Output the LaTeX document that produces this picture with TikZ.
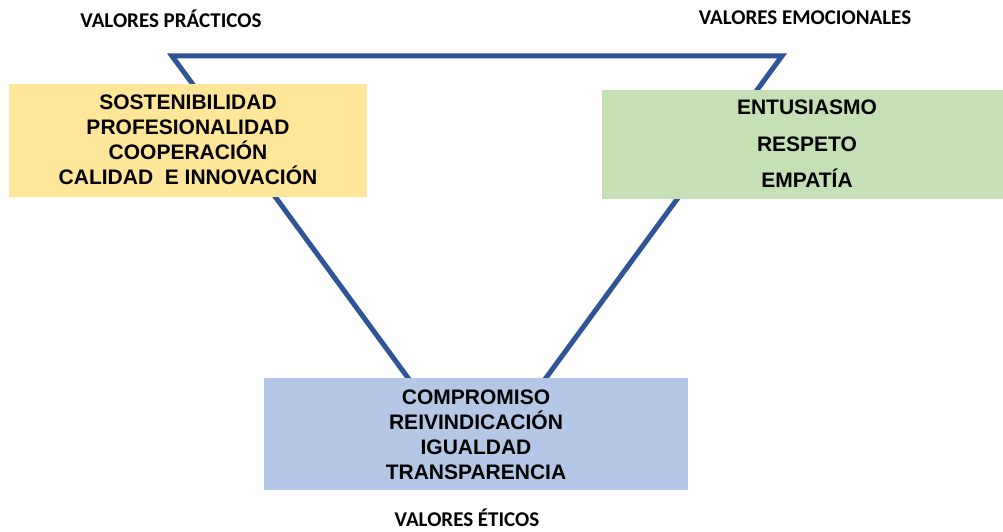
\documentclass[tikz,border=0pt]{standalone}
\usepackage{fontspec}
\setmainfont{Liberation Sans}
\newfontfamily\lblfont{Carlito}
\definecolor{triblue}{HTML}{2F5597}
\definecolor{boxyellow}{HTML}{FFE699}
\definecolor{boxgreen}{HTML}{C5E0B4}
\definecolor{boxblue}{HTML}{B4C7E7}
\begin{document}
\begin{tikzpicture}[x=1pt,y=-1pt,
  valbox/.style={rectangle, inner sep=0pt, align=center, font=\bfseries\fontsize{21}{25}\selectfont},
  grouplabel/.style={inner sep=0pt, font=\lblfont\bfseries\fontsize{21}{24}\selectfont}]
\useasboundingbox (0,0) rectangle (1003,532);
\coordinate (tl) at (172,56);
\coordinate (tr) at (782,56);
\coordinate (ap) at (477,472);
\draw[triblue, line width=5pt] (tl) -- (tr) -- (ap) -- cycle;
\node[valbox, fill=boxyellow, minimum width=358pt, minimum height=113pt] (yb) at (188,140.5) {};
\node[valbox] (yt) at (188,140) {SOSTENIBILIDAD\\PROFESIONALIDAD\\COOPERACIÓN\\CALIDAD\ \ E INNOVACIÓN};
\node[valbox, fill=boxgreen, minimum width=401pt, minimum height=109pt] (gb) at (802.5,144.5) {};
\node[valbox, font=\bfseries\fontsize{21}{36.5}\selectfont] (gt) at (807,144) {ENTUSIASMO\\RESPETO\\EMPATÍA};
\node[valbox, fill=boxblue, minimum width=424pt, minimum height=112pt] (bb) at (476,434) {};
\node[valbox] (bt) at (476,434.5) {COMPROMISO\\REIVINDICACIÓN\\IGUALDAD\\TRANSPARENCIA};
\node[grouplabel] (lp) at (171,19) {VALORES PRÁCTICOS};
\node[grouplabel] (le) at (805,18) {VALORES EMOCIONALES};
\node[grouplabel] (lt) at (467,518) {VALORES ÉTICOS};
\end{tikzpicture}
\end{document}
